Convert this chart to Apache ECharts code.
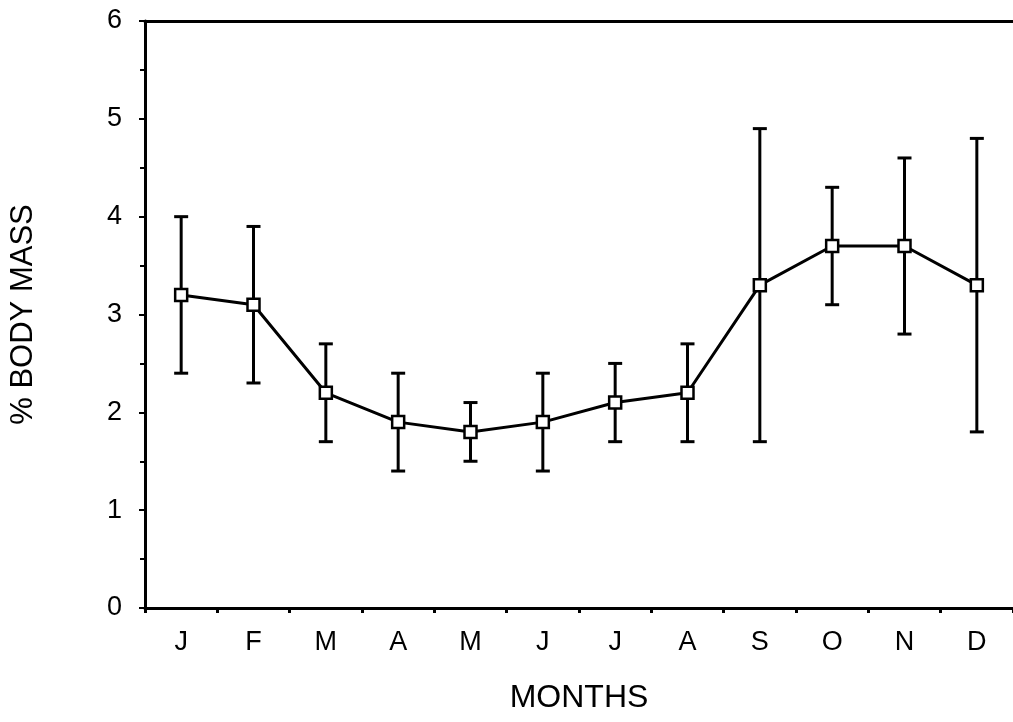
<!DOCTYPE html>
<html>
<head>
<meta charset="utf-8">
<script src="https://cdn.jsdelivr.net/npm/echarts@6/dist/echarts.min.js"></script>
<style>html,body{margin:0;padding:0;background:#fff;}#c{width:1013px;height:722px;}</style>
</head>
<body>
<div id="c"></div>
<script>
const months = ['J','F','M','A','M','J','J','A','S','O','N','D'];
const meanValues = [3.2, 3.1, 2.2, 1.9, 1.8, 1.9, 2.1, 2.2, 3.3, 3.7, 3.7, 3.3];
const lowValues  = [2.4, 2.3, 1.7, 1.4, 1.5, 1.4, 1.7, 1.7, 1.7, 3.1, 2.8, 1.8];
const highValues = [4.0, 3.9, 2.7, 2.4, 2.1, 2.4, 2.5, 2.7, 4.9, 4.3, 4.6, 4.8];
const yTicks = [0, 1, 2, 3, 4, 5, 6];

const errorData = months.map((m, i) => [i, lowValues[i], highValues[i]]);
const FONT = 'Liberation Sans, Arial, sans-serif';

const chart = echarts.init(document.getElementById('c'));
chart.setOption({
  animation: false,
  backgroundColor: '#fff',
  grid: { left: 144, top: 21, width: 870, bottom: 114, containLabel: false },
  xAxis: [{
    type: 'category',
    data: months,
    boundaryGap: true,
    name: 'MONTHS',
    nameLocation: 'middle',
    nameGap: 74,
    nameTextStyle: { fontFamily: FONT, fontSize: 32, color: '#000' },
    axisLine: { show: true, lineStyle: { color: '#000', width: 3 } },
    axisTick: { show: true, length: 5, lineStyle: { color: '#000', width: 3 } },
    axisLabel: { fontFamily: FONT, fontSize: 27, color: '#000', margin: 21 },
    splitLine: { show: false }
  }, {
    type: 'category',
    data: months,
    position: 'top',
    boundaryGap: true,
    axisLine: { show: true, lineStyle: { color: '#000', width: 3 } },
    axisTick: { show: false },
    axisLabel: { show: false },
    splitLine: { show: false }
  }],
  yAxis: {
    type: 'value',
    min: yTicks[0],
    max: yTicks[yTicks.length - 1],
    interval: 1,
    name: '% BODY MASS',
    nameLocation: 'middle',
    nameGap: 106,
    nameRotate: 90,
    nameTextStyle: { fontFamily: FONT, fontSize: 31, color: '#000' },
    axisLine: { show: true, lineStyle: { color: '#000', width: 3 } },
    axisTick: { show: true, length: 6, lineStyle: { color: '#000', width: 2 } },
    minorTick: { show: true, splitNumber: 2, length: 5, lineStyle: { color: '#000', width: 2 } },
    axisLabel: { fontFamily: FONT, fontSize: 27, color: '#000', margin: 23 },
    splitLine: { show: false }
  },
  series: [{
    type: 'custom',
    name: 'error',
    data: errorData,
    z: 2,
    renderItem: function (params, api) {
      const x = api.value(0);
      const lo = api.coord([x, api.value(1)]);
      const hi = api.coord([x, api.value(2)]);
      const hw = 7;
      const st = { stroke: '#000', lineWidth: 3 };
      return {
        type: 'group',
        children: [
          { type: 'line', shape: { x1: lo[0], y1: lo[1], x2: hi[0], y2: hi[1] }, style: st },
          { type: 'line', shape: { x1: hi[0] - hw, y1: hi[1], x2: hi[0] + hw, y2: hi[1] }, style: st },
          { type: 'line', shape: { x1: lo[0] - hw, y1: lo[1], x2: lo[0] + hw, y2: lo[1] }, style: st }
        ]
      };
    }
  }, {
    type: 'line',
    name: 'mean',
    data: meanValues,
    z: 3,
    lineStyle: { color: '#000', width: 3 },
    symbol: 'rect',
    symbolSize: 12,
    itemStyle: { color: '#fff', borderColor: '#000', borderWidth: 2.5 },
    showAllSymbol: true
  }]
});
</script>
</body>
</html>
